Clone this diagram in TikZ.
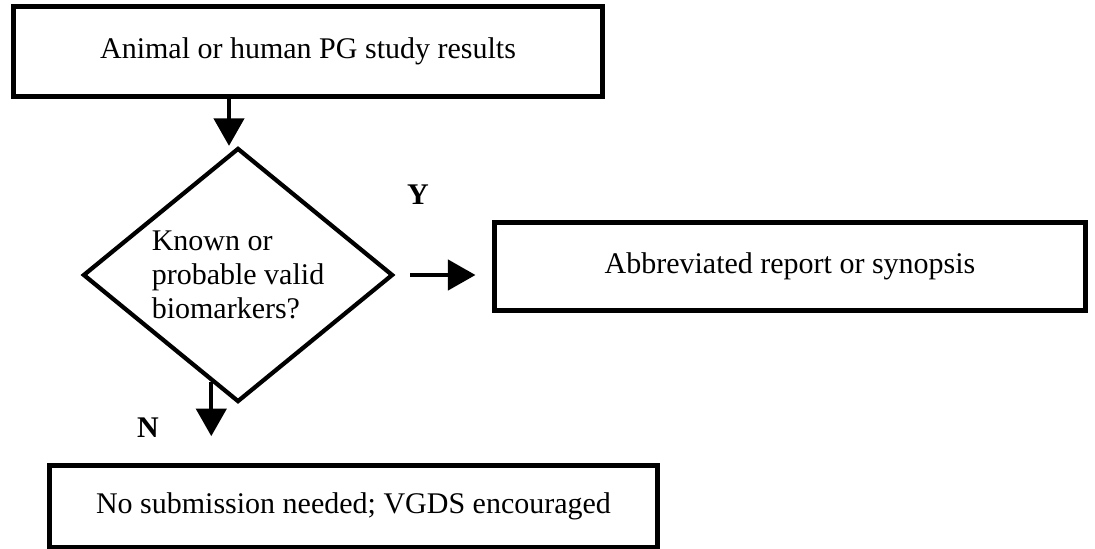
\documentclass[tikz,border=0pt]{standalone}
\usepackage{fontspec}
\setmainfont{Liberation Serif}
\usepackage{tikz}
\usetikzlibrary{shapes.geometric, arrows.meta, positioning}

\begin{document}
\begin{tikzpicture}[x=0.4pt, y=-0.4pt, font=\fontsize{12}{13.6}\selectfont,
  box/.style={draw, line width=2pt, rectangle, inner sep=0pt},
  decide/.style={draw, line width=1.7pt, diamond, aspect=1.22, inner sep=0pt, align=left},
  arr/.style={-{Triangle[length=11pt, width=12pt]}, line width=1.7pt},
  lbl/.style={font=\fontsize{12}{13.6}\selectfont\bfseries}]
\useasboundingbox (0, 0) rectangle (1095, 548);
\node [box, minimum width=235.2pt, minimum height=36pt] (res) at (308, 51) {Animal or human PG study results};
\node [decide, minimum width=124pt, minimum height=101.6pt] (dec) at (238, 275) {Known or\\probable valid\\biomarkers?};
\node [box, minimum width=236pt, minimum height=35.2pt] (abbr) at (790, 266) {Abbreviated report or synopsis};
\node [box, minimum width=242.8pt, minimum height=32.8pt] (nosub) at (353.5, 506) {No submission needed; VGDS encouraged};
\draw [arr] ([xshift=-3.6pt]res.south -| dec.north) -- ([xshift=-3.6pt]dec.north);
\draw [arr] ([xshift=6pt]dec.east) -- ([xshift=-6.8pt]dec.east -| abbr.west);
\draw [arr] (dec.256) -- ++(0, 54);
\node [lbl] (ylab) at (418, 195) {Y};
\node [lbl] (nlab) at (148, 428) {N};
\end{tikzpicture}
\end{document}
